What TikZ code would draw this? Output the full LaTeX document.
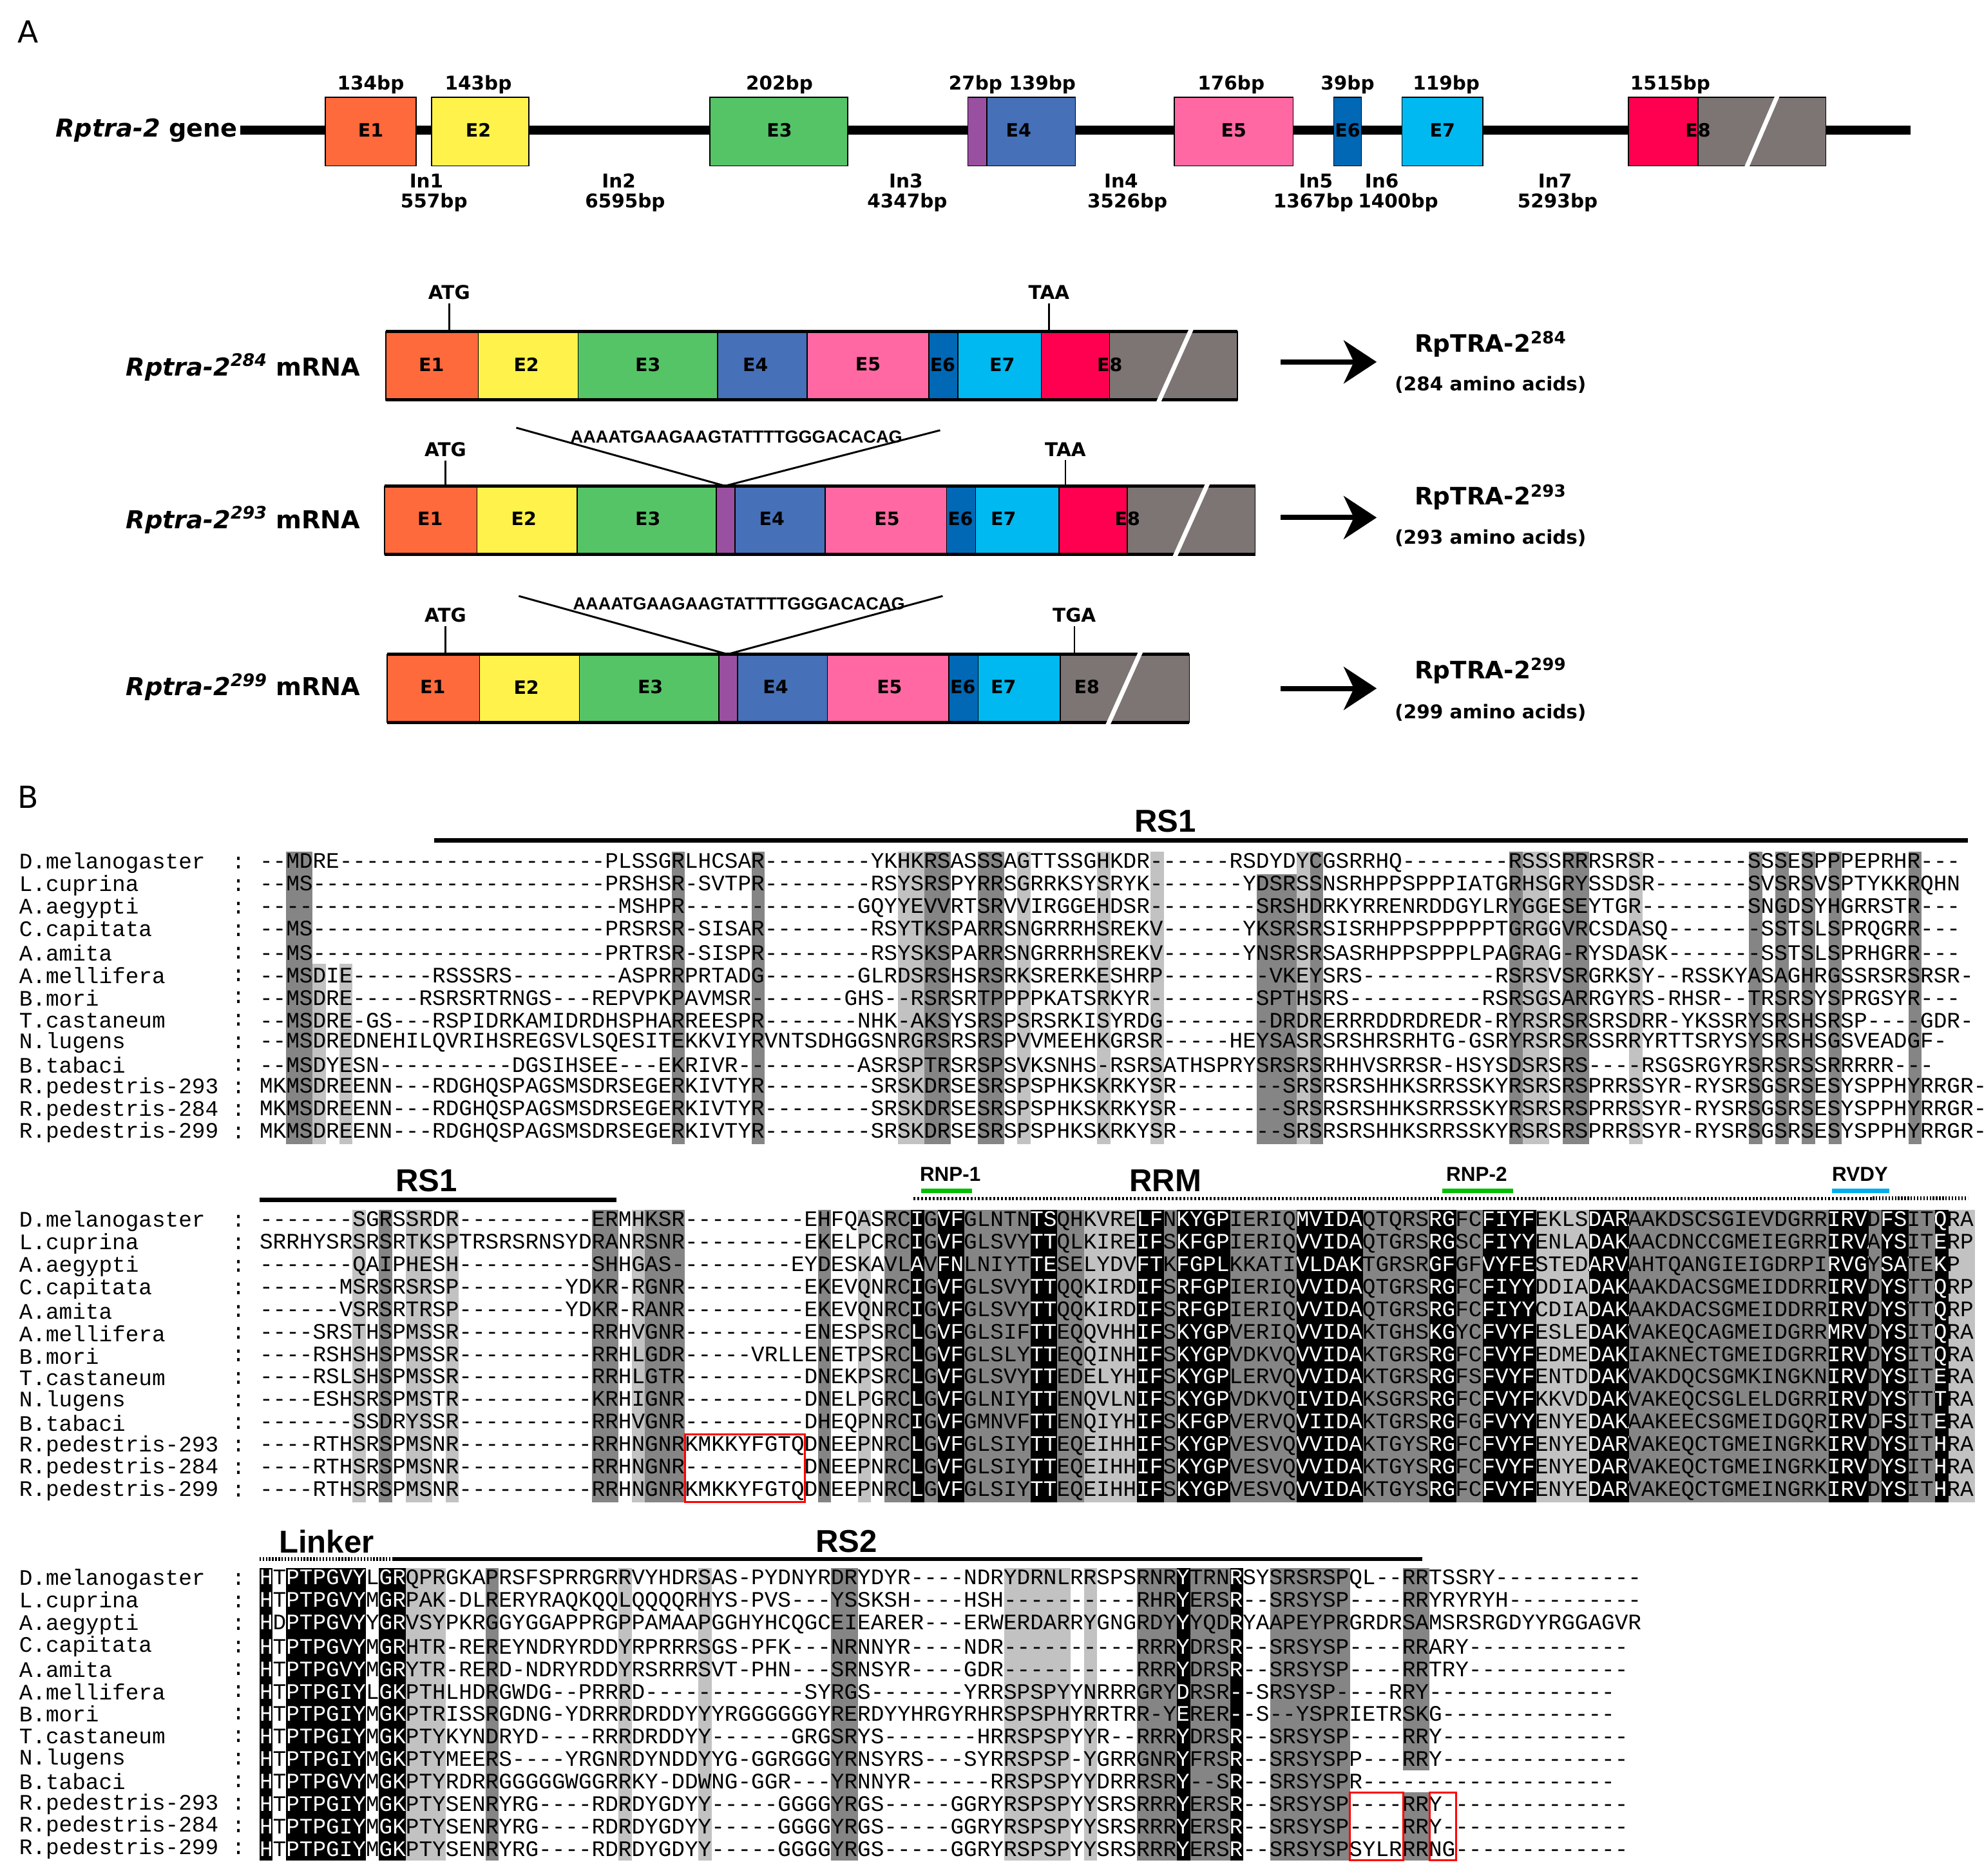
\documentclass[tikz,border=0pt]{standalone}
\usepackage{fontspec}
\setmainfont{DejaVu Sans}
\setmonofont{Liberation Mono}
\newfontfamily\arl{Liberation Sans}
\usetikzlibrary{arrows.meta}
\definecolor{cE1}{HTML}{FF6A3D}\definecolor{cE2}{HTML}{FFF24A}\definecolor{cE3}{HTML}{55C467}
\definecolor{cPu}{HTML}{9A50A0}\definecolor{cE4}{HTML}{4670B8}\definecolor{cE5}{HTML}{FF68A3}
\definecolor{cE6}{HTML}{0068B5}\definecolor{cE7}{HTML}{00B9F0}\definecolor{cE8}{HTML}{FF0050}
\definecolor{cGr}{HTML}{7D7474}\definecolor{dgr}{gray}{0.52}\definecolor{lgr}{gray}{0.76}
\newcommand\sg[5]{\filldraw[fill=#5,draw=black,line width=0.8] (#1,#3) rectangle (#2,#4);}
\newcommand\cb[4]{\fill[#4] ({205+(#2-1)*10.51},{#1-9}) rectangle ({205+#3*10.51},{#1+12*17.75+9});}
\newcommand\cbr[6]{\fill[#6] ({205+(#2-1)*10.51},{#1+(#4-1)*17.75-9}) rectangle ({205+#3*10.51},{#1+(#5-1)*17.75+9});}
\begin{document}
\begin{tikzpicture}[x=1pt,y=-1pt,
 bp/.style={font=\bfseries\fontsize{15}{16}\selectfont,inner sep=0},
 ex/.style={font=\bfseries\fontsize{14.5}{15}\selectfont,inner sep=0},
 ml/.style={font=\bfseries\fontsize{19.5}{20}\selectfont,inner sep=0,anchor=east},
 pr/.style={font=\bfseries\fontsize{19}{20}\selectfont,inner sep=0},
 aa/.style={font=\bfseries\fontsize{15}{16}\selectfont,inner sep=0},
 cod/.style={font=\bfseries\fontsize{15}{16}\selectfont,inner sep=0},
 ins/.style={font=\arl\bfseries\fontsize{13.8}{14}\selectfont,inner sep=0},
 seq/.style={font=\ttfamily\fontsize{17.5}{17.5}\selectfont,inner sep=0,anchor=west},
 hd/.style={font=\arl\bfseries\fontsize{25}{26}\selectfont,inner sep=0},
 sm/.style={font=\arl\bfseries\fontsize{16}{17}\selectfont,inner sep=0},
 bigarr/.style={line width=4,-{Stealth[length=26,width=34,inset=8]}},
 slash/.style={white,line width=3.5}]
\useasboundingbox (0,0) rectangle (1568,1482);
\fill[white] (0,0) rectangle (1568,1482);
\node[font=\fontsize{24}{24}\selectfont,inner sep=0] (lA) at (22,25) {A};
\node[font=\fontsize{24}{24}\selectfont,inner sep=0] (lB) at (22,630) {B};
% ---------- gene ----------
\coordinate (gs) at (190,103); \coordinate (ge) at (1510,103);
\draw[line width=7] (gs) -- (ge);
\node[font=\bfseries\fontsize{19.5}{20}\selectfont,inner sep=0,anchor=east] (gl) at (188,103) {\itshape Rptra-2\upshape\ gene};
\sg{257}{329}{77}{131}{cE1}\sg{341}{418}{77}{131}{cE2}\sg{561}{670}{77}{131}{cE3}
\sg{765}{780}{77}{131}{cPu}\sg{780}{850}{77}{131}{cE4}\sg{928}{1022}{77}{131}{cE5}
\sg{1054}{1076}{77}{131}{cE6}\sg{1108}{1172}{77}{131}{cE7}\sg{1287}{1342}{77}{131}{cE8}
\sg{1342}{1443}{77}{131}{cGr}
\draw[slash] (1405,75)--(1380,133);
\foreach \x/\t [count=\i] in {293/E1,378/E2,616/E3,805/E4,975/E5,1065/E6,1140/E7,1342/E8}
  \node[ex] (ge\i) at (\x,103) {\t};
\foreach \x/\t [count=\i] in {293/134bp,378/143bp,616/202bp,800/27bp 139bp,973/176bp,1065/39bp,1143/119bp,1320/1515bp}
  \node[bp] (gb\i) at (\x,67) {\t};
\foreach \x/\t [count=\i] in {337/In1,489/In2,716/In3,886/In4,1040/In5,1092/In6,1229/In7}
  \node[bp] (gi\i) at (\x,143) {\t};
\foreach \x/\t [count=\i] in {343/557bp,494/6595bp,717/4347bp,891/3526bp,1038/1367bp,1105/1400bp,1231/5293bp}
  \node[bp] (gn\i) at (\x,160) {\t};
% ---------- mRNA 284 ----------
\sg{305}{378}{262}{316}{cE1}\sg{378}{457}{262}{316}{cE2}\sg{457}{567}{262}{316}{cE3}
\sg{567}{638}{262}{316}{cE4}\sg{638}{734}{262}{316}{cE5}\sg{734}{757}{262}{316}{cE6}
\sg{757}{823}{262}{316}{cE7}\sg{823}{877}{262}{316}{cE8}\sg{877}{978}{262}{316}{cGr}
\draw[line width=2.5] (305,262)--(978,262) (305,316)--(978,316);
\draw[slash] (942,259)--(915,319);
\foreach \x/\t [count=\i] in {341/E1,416/E2,512/E3,597/E4,686/E5,745/E6,792/E7,877/E8}
  \node[ex] (ma\i) at (\x,288) {\t};
\node[cod] (atg1) at (355,231) {ATG}; \coordinate (atg1b) at (355,262);
\draw[line width=1.2] (atg1.south)++(0,3) -- (atg1b);
\node[cod] (taa1) at (829,231) {TAA}; \coordinate (taa1b) at (829,262);
\draw[line width=1.2] (taa1.south)++(0,3) -- (taa1b);
\node[ml] (m1) at (285,290) {\itshape Rptra-2\textsuperscript{284}\upshape\ mRNA};
\coordinate (a1s) at (1012,286); \coordinate (a1e) at (1088,286);
\draw[bigarr] (a1s)--(a1e);
\node[pr] (p1) at (1178,272) {RpTRA-2\textsuperscript{284}};
\node[aa] (q1) at (1178,304) {(284 amino acids)};
% ---------- mRNA 293 ----------
\sg{304}{377}{384}{438}{cE1}\sg{377}{456}{384}{438}{cE2}\sg{456}{566}{384}{438}{cE3}
\sg{566}{581}{384}{438}{cPu}\sg{581}{652}{384}{438}{cE4}\sg{652}{748}{384}{438}{cE5}
\sg{748}{771}{384}{438}{cE6}\sg{771}{837}{384}{438}{cE7}\sg{837}{891}{384}{438}{cE8}
\sg{891}{992}{384}{438}{cGr}
\draw[line width=2.5] (304,384)--(992,384) (304,438)--(992,438);
\draw[slash] (955,381)--(928,441);
\foreach \x/\t [count=\i] in {340/E1,414/E2,512/E3,610/E4,701/E5,759/E6,793/E7,891/E8}
  \node[ex] (mb\i) at (\x,410) {\t};
\node[cod] (atg2) at (352,355) {ATG}; \coordinate (atg2b) at (352,384);
\draw[line width=1.2] (atg2.south)++(0,3) -- (atg2b);
\node[cod] (taa2) at (842,355) {TAA}; \coordinate (taa2b) at (842,384);
\draw[line width=1.2] (taa2.south)++(0,3) -- (taa2b);
\coordinate (v2a) at (408,338); \coordinate (v2) at (573,384); \coordinate (v2b) at (743,340);
\draw[line width=1.5] (v2a)--(v2)--(v2b);
\node[ins] (s2) at (582,345) {AAAATGAAGAAGTATTTTGGGACACAG};
\node[ml] (m2) at (285,411) {\itshape Rptra-2\textsuperscript{293}\upshape\ mRNA};
\coordinate (a2s) at (1012,409); \coordinate (a2e) at (1088,409);
\draw[bigarr] (a2s)--(a2e);
\node[pr] (p2) at (1178,393) {RpTRA-2\textsuperscript{293}};
\node[aa] (q2) at (1178,425) {(293 amino acids)};
% ---------- mRNA 299 ----------
\sg{306}{379}{517}{571}{cE1}\sg{379}{458}{517}{571}{cE2}\sg{458}{568}{517}{571}{cE3}
\sg{568}{583}{517}{571}{cPu}\sg{583}{654}{517}{571}{cE4}\sg{654}{750}{517}{571}{cE5}
\sg{750}{773}{517}{571}{cE6}\sg{773}{838}{517}{571}{cE7}\sg{838}{940}{517}{571}{cGr}
\draw[line width=2.5] (306,517)--(940,517) (306,571)--(940,571);
\draw[slash] (902,514)--(875,574);
\foreach \x/\t [count=\i] in {342/E1,416/E2,514/E3,613/E4,703/E5,761/E6,793/E7,859/E8}
  \node[ex] (mc\i) at (\x,543) {\t};
\node[cod] (atg3) at (352,486) {ATG}; \coordinate (atg3b) at (352,517);
\draw[line width=1.2] (atg3.south)++(0,3) -- (atg3b);
\node[cod] (tga3) at (849,486) {TGA}; \coordinate (tga3b) at (849,517);
\draw[line width=1.2] (tga3.south)++(0,3) -- (tga3b);
\coordinate (v3a) at (410,471); \coordinate (v3) at (575,517); \coordinate (v3b) at (745,471);
\draw[line width=1.5] (v3a)--(v3)--(v3b);
\node[ins] (s3) at (584,477) {AAAATGAAGAAGTATTTTGGGACACAG};
\node[ml] (m3) at (285,543) {\itshape Rptra-2\textsuperscript{299}\upshape\ mRNA};
\coordinate (a3s) at (1012,544); \coordinate (a3e) at (1088,544);
\draw[bigarr] (a3s)--(a3e);
\node[pr] (p3) at (1178,530) {RpTRA-2\textsuperscript{299}};
\node[aa] (q3) at (1178,563) {(299 amino acids)};
% ================= B: alignment =================
\def\bA{682}\def\bB{965}\def\bC{1248}
\cb{\bA}{3}{4}{dgr}\cbr{\bA}{5}{5}{6}{13}{lgr}\cbr{\bA}{7}{7}{6}{13}{lgr}
\cb{\bA}{32}{32}{dgr}\cb{\bA}{38}{38}{dgr}\cb{\bA}{51}{52}{dgr}\cb{\bA}{55}{56}{dgr}
\cb{\bA}{49}{50}{lgr}\cb{\bA}{58}{58}{lgr}\cb{\bA}{64}{64}{lgr}\cb{\bA}{68}{68}{lgr}
\cbr{\bA}{76}{78}{2}{13}{dgr}\cb{\bA}{80}{80}{dgr}\cb{\bA}{79}{79}{lgr}
\cb{\bA}{95}{95}{dgr}\cb{\bA}{96}{97}{lgr}\cb{\bA}{99}{100}{dgr}\cb{\bA}{104}{104}{lgr}
\cb{\bA}{113}{113}{dgr}\cb{\bA}{115}{115}{dgr}\cb{\bA}{117}{117}{dgr}\cb{\bA}{119}{119}{dgr}\cb{\bA}{125}{125}{dgr}
\cb{\bB}{8}{8}{lgr}\cb{\bB}{10}{10}{dgr}\cb{\bB}{12}{13}{lgr}\cb{\bB}{15}{15}{lgr}
\cb{\bB}{26}{27}{dgr}\cb{\bB}{29}{29}{lgr}\cb{\bB}{30}{32}{dgr}
\cb{\bB}{43}{43}{dgr}\cb{\bB}{46}{46}{lgr}\cb{\bB}{48}{49}{dgr}\cb{\bB}{51}{51}{dgr}
\cb{\bB}{54}{58}{dgr}\cb{\bB}{61}{62}{dgr}\cb{\bB}{63}{66}{lgr}\cb{\bB}{69}{69}{dgr}
\cb{\bB}{74}{78}{dgr}\cb{\bB}{84}{88}{dgr}\cb{\bB}{91}{92}{dgr}\cb{\bB}{97}{100}{lgr}
\cb{\bB}{104}{118}{dgr}\cb{\bB}{122}{122}{dgr}\cb{\bB}{125}{126}{dgr}\cb{\bB}{128}{129}{lgr}
\cb{\bC}{12}{14}{lgr}\cb{\bC}{18}{18}{dgr}\cb{\bC}{28}{28}{lgr}\cb{\bC}{34}{34}{lgr}
\cb{\bC}{44}{45}{dgr}\cb{\bC}{57}{61}{lgr}\cb{\bC}{63}{63}{lgr}
\cb{\bC}{67}{69}{dgr}\cb{\bC}{71}{73}{dgr}\cb{\bC}{77}{82}{dgr}\cbr{\bC}{87}{88}{1}{9}{dgr}\cbr{\bC}{87}{88}{11}{13}{dgr}
\foreach \n [count=\i from 0] in {D.melanogaster,L.cuprina,A.aegypti,C.capitata,A.amita,A.mellifera,B.mori,T.castaneum,N.lugens,B.tabaci,R.pedestris-293,R.pedestris-284,R.pedestris-299}{
  \node[seq] (na\i) at (15,\bA+17.75*\i) {\n}; \node[seq] (ca\i) at (183,\bA+17.75*\i) {:};
  \node[seq] (nb\i) at (15,\bB+17.75*\i) {\n}; \node[seq] (cb\i) at (183,\bB+17.75*\i) {:};
  \node[seq] (nc\i) at (15,\bC+17.75*\i) {\n}; \node[seq] (cc\i) at (183,\bC+17.75*\i) {:};}
\foreach \s [count=\i from 0] in {
--MDRE--------------------PLSSGRLHCSAR--------YKHKRSASSSAGTTSSGHKDR------RSDYDYCGSRRHQ--------RSSSRRRSRSR-------SSSESPPPEPRHR---,
--MS----------------------PRSHSR-SVTPR--------RSYSRSPYRRSGRRKSYSRYK-------YDSRSSNSRHPPSPPPIATGRHSGRYSSDSR-------SVSRSVSPTYKKRQHN,
---------------------------MSHPR-------------GQYYEVVRTSRVVIRGGEHDSR--------SRSHDRKYRRENRDDGYLRYGGESEYTGR--------SNGDSYHGRRSTR---,
--MS----------------------PRSRSR-SISAR--------RSYTKSPARRSNGRRRHSREKV------YKSRSRSISRHPPSPPPPPTGRGGVRCSDASQ-------SSTSLSPRQGRR---,
--MS----------------------PRTRSR-SISPR--------RSYSKSPARRSNGRRRHSREKV------YNSRSRSASRHPPSPPPLPAGRAG-RYSDASK-------SSTSLSPRHGRR---,
--MSDIE------RSSSRS--------ASPRRPRTADG-------GLRDSRSHSRSRKSRERKESHRP--------VKEYSRS----------RSRSVSRGRKSY--RSSKYASAGHRGSSRSRSRSR-,
--MSDRE-----RSRSRTRNGS---REPVPKPAVMSR-------GHS--RSRSRTPPPPKATSRKYR--------SPTHSRS----------RSRSGSARRGYRS-RHSR--TRSRSYSPRGSYR---,
--MSDRE-GS---RSPIDRKAMIDRDHSPHARREESPR-------NHK-AKSYSRSPSRSRKISYRDG--------DRDRERRRDDRDREDR-RYRSRSRSRSDRR-YKSSRYSRSHSRSP----GDR-,
--MSDREDNEHILQVRIHSREGSVLSQESITEKKVIYRVNTSDHGGSNRGRSRSRSPVVMEEHKGRSR-----HEYSASRSRSHRSRHTG-GSRYRSRSRSSRRYRTTSRYSYSRSHSGSVEADGF-,
--MSDYESN----------DGSIHSEE---EKRIVR---------ASRSPTRSRSPSVKSNHS-RSRSATHSPRYSRSRSRHHVSRRSR-HSYSDSRSRS----RSGSRGYRSRSRSSRRRRR---,
MKMSDREENN---RDGHQSPAGSMSDRSEGERKIVTYR--------SRSKDRSESRSPSPHKSKRKYSR--------SRSRSRSHHKSRRSSKYRSRSRSPRRSSYR-RYSRSGSRSESYSPPHYRRGR-,
MKMSDREENN---RDGHQSPAGSMSDRSEGERKIVTYR--------SRSKDRSESRSPSPHKSKRKYSR--------SRSRSRSHHKSRRSSKYRSRSRSPRRSSYR-RYSRSGSRSESYSPPHYRRGR-,
MKMSDREENN---RDGHQSPAGSMSDRSEGERKIVTYR--------SRSKDRSESRSPSPHKSKRKYSR--------SRSRSRSHHKSRRSSKYRSRSRSPRRSSYR-RYSRSGSRSESYSPPHYRRGR-}
  \node[seq] (sa\i) at (205,\bA+17.75*\i) {\s};
\foreach \s [count=\i from 0] in {
-------SGRSSRDR----------ERMHKSR---------EHFQASRCIGVFGLNTNTSQHKVRELFNKYGPIERIQMVIDAQTQRSRGFCFIYFEKLSDARAAKDSCSGIEVDGRRIRVDFSITQRA,
SRRHYSRSRSRTKSPTRSRSRNSYDRANRSNR---------EKELPCRCIGVFGLSVYTTQLKIREIFSKFGPIERIQVVIDAQTGRSRGSCFIYYENLADAKAACDNCCGMEIEGRRIRVAYSITERP,
-------QAIPHESH----------SHHGAS---------EYDESKAVLAVFNLNIYTTESELYDVFTKFGPLKKATIVLDAKTGRSRGFGFVYFESTEDARVAHTQANGIEIGDRPIRVGYSATEKP,
------MSRSRSRSP--------YDKR-RGNR---------EKEVQNRCIGVFGLSVYTTQQKIRDIFSRFGPIERIQVVIDAQTGRSRGFCFIYYDDIADAKAAKDACSGMEIDDRRIRVDYSTTQRP,
------VSRSRTRSP--------YDKR-RANR---------EKEVQNRCIGVFGLSVYTTQQKIRDIFSRFGPIERIQVVIDAQTGRSRGFCFIYYCDIADAKAAKDACSGMEIDDRRIRVDYSTTQRP,
----SRSTHSPMSSR----------RRHVGNR---------ENESPSRCLGVFGLSIFTTEQQVHHIFSKYGPVERIQVVIDAKTGHSKGYCFVYFESLEDAKVAKEQCAGMEIDGRRMRVDYSITQRA,
----RSHSHSPMSSR----------RRHLGDR-----VRLLENETPSRCLGVFGLSLYTTEQQINHIFSKYGPVDKVQVVIDAKTGRSRGFCFVYFEDMEDAKIAKNECTGMEIDGRRIRVDYSITQRA,
----RSLSHSPMSSR----------RRHLGTR---------DNEKPSRCLGVFGLSVYTTEDELYHIFSKYGPLERVQVVIDAKTGRSRGFSFVYFENTDDAKVAKDQCSGMKINGKNIRVDYSITERA,
----ESHSRSPMSTR----------KRHIGNR---------DNELPGRCLGVFGLNIYTTENQVLNIFSKYGPVDKVQIVIDAKSGRSRGFCFVYFKKVDDAKVAKEQCSGLELDGRRIRVDYSTTTRA,
-------SSDRYSSR----------RRHVGNR---------DHEQPNRCIGVFGMNVFTTENQIYHIFSKFGPVERVQVIIDAKTGRSRGFGFVYYENYEDAKAAKEECSGMEIDGQRIRVDFSITERA,
----RTHSRSPMSNR----------RRHNGNRKMKKYFGTQDNEEPNRCLGVFGLSIYTTEQEIHHIFSKYGPVESVQVVIDAKTGYSRGFCFVYFENYEDARVAKEQCTGMEINGRKIRVDYSITHRA,
----RTHSRSPMSNR----------RRHNGNR---------DNEEPNRCLGVFGLSIYTTEQEIHHIFSKYGPVESVQVVIDAKTGYSRGFCFVYFENYEDARVAKEQCTGMEINGRKIRVDYSITHRA,
----RTHSRSPMSNR----------RRHNGNRKMKKYFGTQDNEEPNRCLGVFGLSIYTTEQEIHHIFSKYGPVESVQVVIDAKTGYSRGFCFVYFENYEDARVAKEQCTGMEINGRKIRVDYSITHRA}
  \node[seq] (sb\i) at (205,\bB+17.75*\i) {\s};
\foreach \s [count=\i from 0] in {
HTPTPGVYLGRQPRGKAPRSFSPRRGRRVYHDRSAS-PYDNYRDRYDYR----NDRYDRNLRRSPSRNRYTRNRSYSRSRSPQL--RRTSSRY-----------,
HTPTPGVYMGRPAK-DLRERYRAQKQQLQQQQRHYS-PVS---YSSKSH----HSH----------RHRYERSR--SRSYSP----RRYRYRYH----------,
HDPTPGVYYGRVSYPKRGGYGGAPPRGPPAMAAPGGHYHCQGCEIEARER---ERWERDARRYGNGRDYYYQDRYAAPEYPRGRDRSAMSRSRGDYYRGGAGVR,
HTPTPGVYMGRHTR-REREYNDRYRDDYRPRRRSGS-PFK---NRNNYR----NDR----------RRRYDRSR--SRSYSP----RRARY------------,
HTPTPGVYMGRYTR-RERD-NDRYRDDYRSRRRSVT-PHN---SRNSYR----GDR----------RRRYDRSR--SRSYSP----RRTRY------------,
HTPTPGIYLGKPTHLHDRGWDG--PRRRD------------SYRGS-------YRRSPSPYYNRRRGRYDRSR--SRSYSP----RRY--------------,
HTPTPGIYMGKPTRISSRGDNG-YDRRRDRDDYYYRGGGGGGYRERDYYHRGYRHRSPSPHYRRTRR-YERER--S--YSPRIETRSKG-------------,
HTPTPGIYMGKPTYKYNDRYD----RRRDRDDYY------GRGSRYS-------HRRSPSPYYR--RRRYDRSR--SRSYSP----RRY--------------,
HTPTPGIYMGKPTYMEERS----YRGNRDYNDDYYG-GGRGGGYRNSYRS---SYRRSPSP-YGRRGNRYFRSR--SRSYSPP---RRY--------------,
HTPTPGVYMGKPTYRDRRGGGGGWGGRRKY-DDWNG-GGR---YRNNYR------RRSPSPYYDRRRSRY--SR--SRSYSPR-------------------,
HTPTPGIYMGKPTYSENRYRG----RDRDYGDYY-----GGGGYRGS-----GGRYRSPSPYYSRSRRRYERSR--SRSYSP----RRY--------------,
HTPTPGIYMGKPTYSENRYRG----RDRDYGDYY-----GGGGYRGS-----GGRYRSPSPYYSRSRRRYERSR--SRSYSP----RRY--------------,
HTPTPGIYMGKPTYSENRYRG----RDRDYGDYY-----GGGGYRGS-----GGRYRSPSPYYSRSRRRYERSR--SRSYSPSYLRRRNG-------------}
  \node[seq] (sc\i) at (205,\bC+17.75*\i) {\s};
\begin{scope}[blend mode=difference]
\cb{\bB}{50}{50}{white}\cb{\bB}{52}{53}{white}\cb{\bB}{59}{60}{white}\cb{\bB}{67}{68}{white}
\cb{\bB}{70}{73}{white}\cb{\bB}{79}{83}{white}\cb{\bB}{89}{90}{white}\cb{\bB}{93}{96}{white}
\cb{\bB}{101}{103}{white}\cb{\bB}{119}{121}{white}\cb{\bB}{123}{124}{white}\cb{\bB}{127}{127}{white}
\cb{\bC}{1}{1}{white}\cb{\bC}{3}{8}{white}\cb{\bC}{10}{11}{white}\cb{\bC}{70}{70}{white}\cb{\bC}{74}{74}{white}
\end{scope}
\draw[red,line width=1.5] ({205+32*10.51},{\bB+10*17.75-9}) rectangle ({205+41*10.51},{\bB+12*17.75+9});
\draw[red,line width=1.5] ({205+82*10.51},{\bC+10*17.75-9}) rectangle ({205+86*10.51},{\bC+12*17.75+9});
\draw[red,line width=1.5] ({205+88*10.51},{\bC+10*17.75-9}) rectangle ({205+90*10.51},{\bC+12*17.75+9});
\coordinate (r1a) at (343,664); \coordinate (r1b) at (1555,664);
\draw[line width=3.5] (r1a)--(r1b);
\node[hd] (t1) at (921,649) {RS1};
\coordinate (r2a) at (205,948); \coordinate (r2b) at (487,948);
\draw[line width=3.5] (r2a)--(r2b);
\node[hd] (t2) at (337,933) {RS1};
\node[hd] (t3) at (921,933) {RRM};
\coordinate (d1) at (722,947); \coordinate (d2) at (1480,947); \coordinate (d3) at (1555,947);
\draw[line width=2.5,dash pattern=on 1.5 off 1.5] (d1)--(d2);
\draw[line width=3,dash pattern=on 1.2 off 1.3] (d2)--(d3);
\node[sm] (t4) at (751,928) {RNP-1};
\draw[green!75!black,line width=3.5] (728,941)--(768,941);
\node[sm] (t5) at (1167,928) {RNP-2};
\draw[green!75!black,line width=3.5] (1140,941)--(1196,941);
\node[sm] (t6) at (1470,928) {RVDY};
\draw[cyan,line width=3.5] (1448,941)--(1493,941);
\node[hd] (t7) at (258,1218) {Linker};
\coordinate (k1) at (205,1232); \coordinate (k2) at (310,1232); \coordinate (k3) at (1124,1232);
\draw[line width=3,dash pattern=on 1.2 off 1.3] (k1)--(k2);
\draw[line width=3.5] (k2)--(k3);
\node[hd] (t8) at (669,1218) {RS2};
\end{tikzpicture}
\end{document}
